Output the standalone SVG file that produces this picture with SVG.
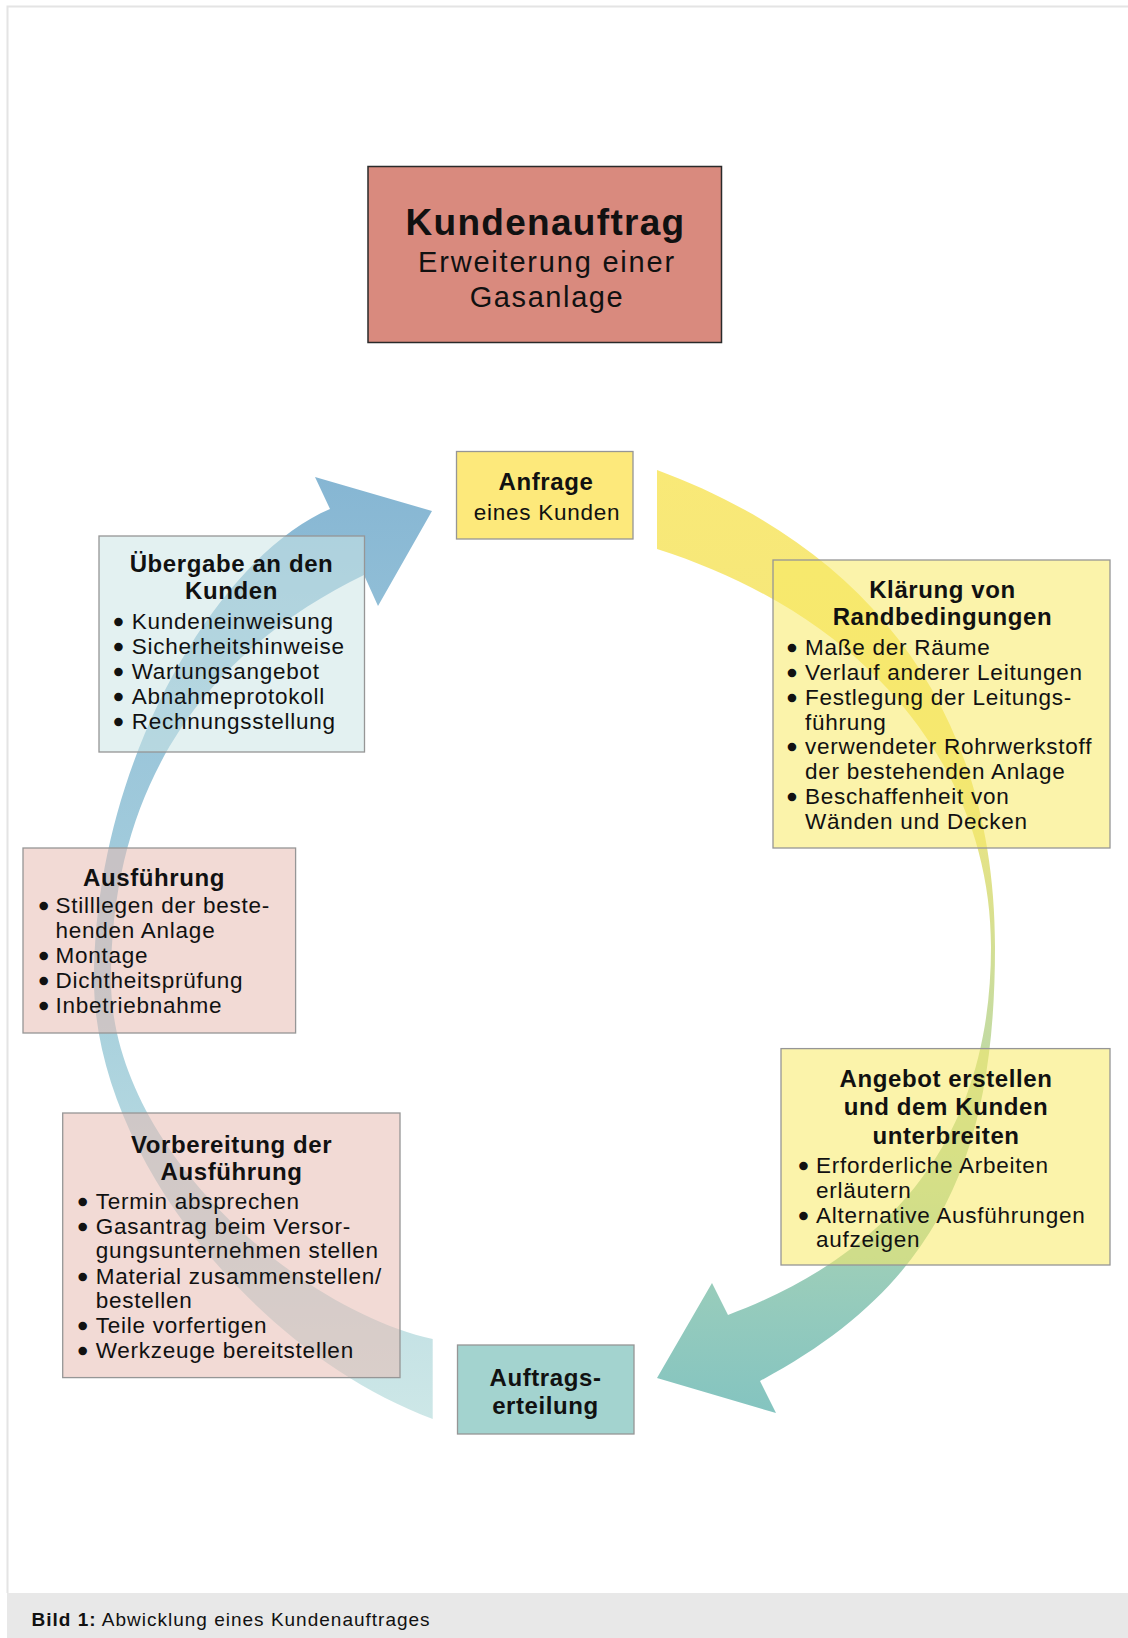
<svg xmlns="http://www.w3.org/2000/svg" width="1128" height="1638" viewBox="0 0 1128 1638">
<defs>
<style>
.t{font-family:"Liberation Sans",Arial,sans-serif;font-weight:bold;font-size:24px;letter-spacing:0.6px;text-anchor:middle;fill:#111}
.x{font-family:"Liberation Sans",Arial,sans-serif;font-size:22.5px;letter-spacing:0.75px;fill:#111}
.bu{stroke:#111;stroke-width:2.4px;letter-spacing:0}
.box{stroke:#969696;stroke-width:1.3}
.tr{fill-opacity:0.55}
</style>
<linearGradient id="gBlue" gradientUnits="userSpaceOnUse" x1="0" y1="1420" x2="0" y2="477">
<stop offset="0" stop-color="#cde7e7"/>
<stop offset="0.42" stop-color="#a9d1dd"/>
<stop offset="0.72" stop-color="#9bc6da"/>
<stop offset="1" stop-color="#86b6d3"/>
</linearGradient>
<linearGradient id="gYel" gradientUnits="userSpaceOnUse" x1="0" y1="470" x2="0" y2="1413">
<stop offset="0" stop-color="#f9e977"/>
<stop offset="0.3" stop-color="#f3e67c"/>
<stop offset="0.45" stop-color="#dde18c"/>
<stop offset="0.6" stop-color="#c4dba2"/>
<stop offset="0.8" stop-color="#a2d0b6"/>
<stop offset="0.9" stop-color="#93cabd"/>
<stop offset="1" stop-color="#84c4c0"/>
</linearGradient>
</defs>
<rect x="0" y="0" width="1128" height="1638" fill="#ffffff"/>
<path d="M7.5,1593 V6.5 H1128" fill="none" stroke="#e4e4e4" stroke-width="2"/>
<rect x="7" y="1593" width="1121" height="45" fill="#e8e8e8"/>
<text x="31.5" y="1626" style="font-family:'Liberation Sans',Arial,sans-serif;font-size:19px;letter-spacing:1px;fill:#111"><tspan font-weight="bold">Bild 1:</tspan> Abwicklung eines Kundenauftrages</text>

<g id="connectors">
<path id="arrow-right" fill="url(#gYel)" d="M657,470 C860,545 995,700 995,947 C995,1160 936,1287 760,1381 L776,1413 L657,1378 L712,1283 L728,1315 C900,1250 991,1130 991,947 C991,780 880,620 657,549 Z"/>
<path id="arrow-left" fill="url(#gBlue)" d="M432.7,1419 C250,1350 94,1150 94,980 C94,760 220,555 330,509 L315,477 L432,511 L378,606 L364,575 C230,640 111,760 111,980 C111,1150 300,1310 432.7,1339 Z"/>
</g>

<g id="kundenauftrag">
<rect x="368" y="166.5" width="353.5" height="176" fill="#d98a7e" stroke="#2a2a2a" stroke-width="1.5"/>
<text x="545.5" y="235" style="font-family:'Liberation Sans',Arial,sans-serif;font-weight:bold;font-size:37px;letter-spacing:1.3px;text-anchor:middle;fill:#111">Kundenauftrag</text>
<text x="547" y="271.7" style="font-family:'Liberation Sans',Arial,sans-serif;font-size:29px;letter-spacing:1.8px;text-anchor:middle;fill:#111">Erweiterung einer</text>
<text x="547" y="306.7" style="font-family:'Liberation Sans',Arial,sans-serif;font-size:29px;letter-spacing:1.6px;text-anchor:middle;fill:#111">Gasanlage</text>
</g>

<g id="anfrage">
<rect class="box" x="456.5" y="451.5" width="176.5" height="87.5" fill="#fde97b"/>
<text class="t" x="546" y="490">Anfrage</text>
<text class="x" x="547" y="519.5" text-anchor="middle">eines Kunden</text>
</g>

<g id="klaerung">
<rect class="box tr" x="773" y="560" width="337" height="288" fill="#f8e964"/>
<text class="t" x="942.5" y="598.3">Klärung von</text>
<text class="t" x="942.5" y="625">Randbedingungen</text>
<text class="x" y="655"><tspan class="bu" x="788">•</tspan><tspan x="805">Maße der Räume</tspan></text>
<text class="x" y="680"><tspan class="bu" x="788">•</tspan><tspan x="805">Verlauf anderer Leitungen</tspan></text>
<text class="x" y="705"><tspan class="bu" x="788">•</tspan><tspan x="805">Festlegung der Leitungs-</tspan></text>
<text class="x" x="805" y="729.5">führung</text>
<text class="x" y="753.5"><tspan class="bu" x="788">•</tspan><tspan x="805">verwendeter Rohrwerkstoff</tspan></text>
<text class="x" x="805" y="778.5">der bestehenden Anlage</text>
<text class="x" y="803.5"><tspan class="bu" x="788">•</tspan><tspan x="805">Beschaffenheit von</tspan></text>
<text class="x" x="805" y="828.5">Wänden und Decken</text>
</g>

<g id="angebot">
<rect class="box tr" x="781" y="1048.6" width="329" height="216.4" fill="#f8e964"/>
<text class="t" x="946" y="1086.6">Angebot erstellen</text>
<text class="t" x="946" y="1115.1">und dem Kunden</text>
<text class="t" x="946" y="1143.7">unterbreiten</text>
<text class="x" y="1173"><tspan class="bu" x="799.6">•</tspan><tspan x="816">Erforderliche Arbeiten</tspan></text>
<text class="x" x="816" y="1197.5">erläutern</text>
<text class="x" y="1222.5"><tspan class="bu" x="799.6">•</tspan><tspan x="816">Alternative Ausführungen</tspan></text>
<text class="x" x="816" y="1247">aufzeigen</text>
</g>

<g id="auftragserteilung">
<rect class="box" x="457.5" y="1345" width="176.5" height="89" fill="#a3d3cf"/>
<text class="t" x="545.5" y="1385.7">Auftrags-</text>
<text class="t" x="545.5" y="1413.6">erteilung</text>
</g>

<g id="vorbereitung">
<rect class="box tr" x="62.7" y="1113" width="337.3" height="264.6" fill="#e7bcb3"/>
<text class="t" x="231.5" y="1153.4">Vorbereitung der</text>
<text class="t" x="231.5" y="1180.2">Ausführung</text>
<text class="x" y="1208.9"><tspan class="bu" x="78.8">•</tspan><tspan x="95.7">Termin absprechen</tspan></text>
<text class="x" y="1233.8"><tspan class="bu" x="78.8">•</tspan><tspan x="95.7">Gasantrag beim Versor-</tspan></text>
<text class="x" x="95.7" y="1257.9">gungsunternehmen stellen</text>
<text class="x" y="1283.5"><tspan class="bu" x="78.8">•</tspan><tspan x="95.7">Material zusammenstellen/</tspan></text>
<text class="x" x="95.7" y="1308.4">bestellen</text>
<text class="x" y="1333.3"><tspan class="bu" x="78.8">•</tspan><tspan x="95.7">Teile vorfertigen</tspan></text>
<text class="x" y="1358.1"><tspan class="bu" x="78.8">•</tspan><tspan x="95.7">Werkzeuge bereitstellen</tspan></text>
</g>

<g id="ausfuehrung">
<rect class="box tr" x="23" y="848" width="272.6" height="185" fill="#e7bcb3"/>
<text class="t" x="154" y="885.5">Ausführung</text>
<text class="x" y="913.4"><tspan class="bu" x="39.8">•</tspan><tspan x="55.5">Stilllegen der beste-</tspan></text>
<text class="x" x="55.5" y="938.3">henden Anlage</text>
<text class="x" y="963.2"><tspan class="bu" x="39.8">•</tspan><tspan x="55.5">Montage</tspan></text>
<text class="x" y="988"><tspan class="bu" x="39.8">•</tspan><tspan x="55.5">Dichtheitsprüfung</tspan></text>
<text class="x" y="1013"><tspan class="bu" x="39.8">•</tspan><tspan x="55.5">Inbetriebnahme</tspan></text>
</g>

<g id="uebergabe">
<rect class="box tr" x="99" y="536" width="265.5" height="216" fill="#cce6e6"/>
<text class="t" x="231.5" y="571.7">Übergabe an den</text>
<text class="t" x="231.5" y="599.3">Kunden</text>
<text class="x" y="628.5"><tspan class="bu" x="114.6">•</tspan><tspan x="131.7">Kundeneinweisung</tspan></text>
<text class="x" y="653.5"><tspan class="bu" x="114.6">•</tspan><tspan x="131.7">Sicherheitshinweise</tspan></text>
<text class="x" y="678.5"><tspan class="bu" x="114.6">•</tspan><tspan x="131.7">Wartungsangebot</tspan></text>
<text class="x" y="703.5"><tspan class="bu" x="114.6">•</tspan><tspan x="131.7">Abnahmeprotokoll</tspan></text>
<text class="x" y="728.5"><tspan class="bu" x="114.6">•</tspan><tspan x="131.7">Rechnungsstellung</tspan></text>
</g>
</svg>
